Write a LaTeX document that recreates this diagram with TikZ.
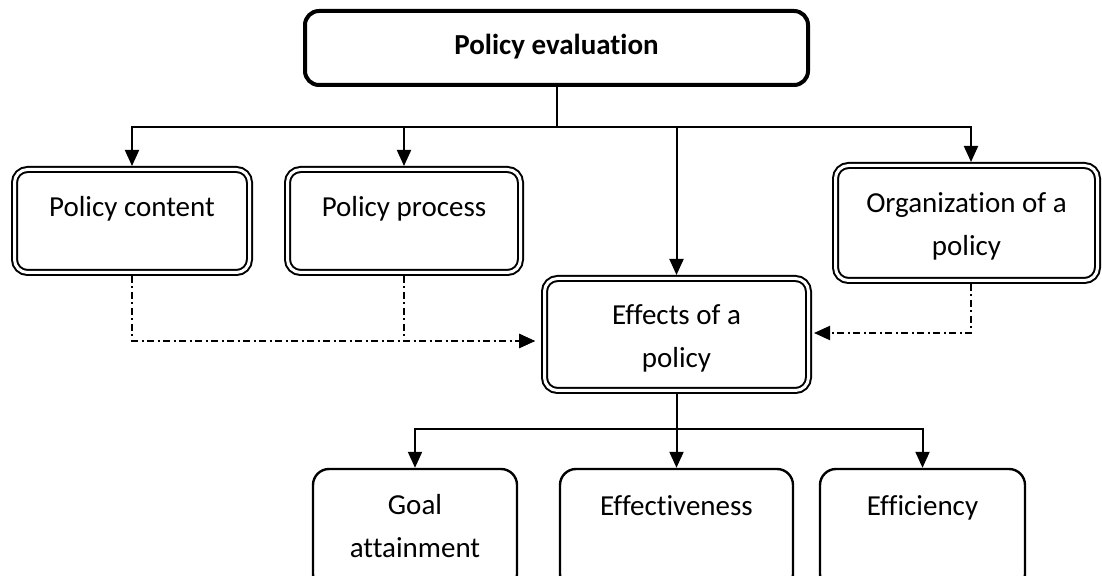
\documentclass[tikz,border=0pt]{standalone}
\usepackage{fontspec}
\setmainfont{Carlito}[Ligatures=NoCommon]
\usetikzlibrary{arrows.meta}
\begin{document}
\begin{tikzpicture}[x=0.5pt,y=-0.5pt,
  txt/.style={font=\fontsize{14.5pt}{21.5pt}\selectfont, align=center, inner sep=0pt},
  boldtxt/.style={font=\fontsize{14.5pt}{21.5pt}\selectfont\bfseries, align=center, inner sep=0pt},
  topbox/.style={draw, line width=2pt, rounded corners=7pt, inner sep=0pt, outer sep=1pt},
  dbox/.style={draw, double, line width=1pt, double distance=1.5pt, rounded corners=6.5pt, inner sep=0pt, outer sep=1.75pt},
  sbox/.style={draw, line width=1.2pt, rounded corners=8pt, inner sep=0pt, outer sep=0.6pt},
  conn/.style={line width=1pt},
  arr/.style={conn, -{Triangle[width=7pt,length=8pt]}},
  dd/.style={arr, dash pattern=on 3.5pt off 1.75pt on 1pt off 1.75pt}]
\useasboundingbox (0,0) rectangle (1102,576);
\clip (0,0) rectangle (1102,576);

% top
\node[topbox, minimum width=251.5pt, minimum height=37pt,
  label={[boldtxt,yshift=0.5pt,name=topt]center:Policy evaluation}] (top) at (556.5,48) {};

% second row
\node[dbox, minimum width=117.5pt, minimum height=51.5pt,
  label={[txt,yshift=6pt,name=pct]center:Policy content}] (pc) at (132,221) {};
\node[dbox, minimum width=116.5pt, minimum height=51.5pt,
  label={[txt,yshift=6pt,name=ppt]center:Policy process}] (pp) at (404,221) {};
\node[dbox, minimum width=131pt, minimum height=57.5pt,
  label={[txt,yshift=-1.75pt,name=orgt]center:{Organization of a\\policy}}] (org) at (966.5,223) {};
\node[dbox, minimum width=132pt, minimum height=56pt,
  label={[txt,yshift=-2pt,name=efft]center:{Effects of a\\policy}}] (eff) at (676.5,334.5) {};

% bottom row
\node[sbox, minimum width=102pt, minimum height=60.5pt,
  label={[txt,yshift=1.5pt,name=goalt]center:{Goal\\attainment}}] (goal) at (415,529.5) {};
\node[sbox, minimum width=116.5pt, minimum height=60.5pt,
  label={[txt,yshift=11.45pt,name=effvt]center:Effectiveness\strut}] (effv) at (676.5,529.5) {};
\node[sbox, minimum width=102.5pt, minimum height=60.5pt,
  label={[txt,yshift=11.45pt,name=effit]center:Efficiency\strut}] (effi) at (922.5,529.5) {};

% connectors from top
\coordinate (j1) at (556.5,127);
\draw[conn] (top.south) -- (j1);
\draw[arr] (j1) -| (pc.north);
\draw[arr] (j1) -| (pp.north);
\draw[arr] (j1) -| ([xshift=2.25pt]org.north);
\draw[arr] (j1) -| (eff.north);

% dash-dot influences
\draw[dd, shorten >=3pt] (pc.south) |- ([yshift=-3.25pt]eff.west);
\draw[dd, shorten >=3pt] (pp.south) |- ([yshift=-3.25pt]eff.west);
\draw[dd, shorten >=1pt] ([xshift=2.25pt]org.south) |- ([yshift=0.75pt]eff.east);

% effects to bottom row
\coordinate (j2) at (676.5,429);
\draw[arr] (eff.south) -- (effv.north);
\draw[arr] (j2) -| (goal.north);
\draw[arr] (j2) -| (effi.north);
\end{tikzpicture}
\end{document}
